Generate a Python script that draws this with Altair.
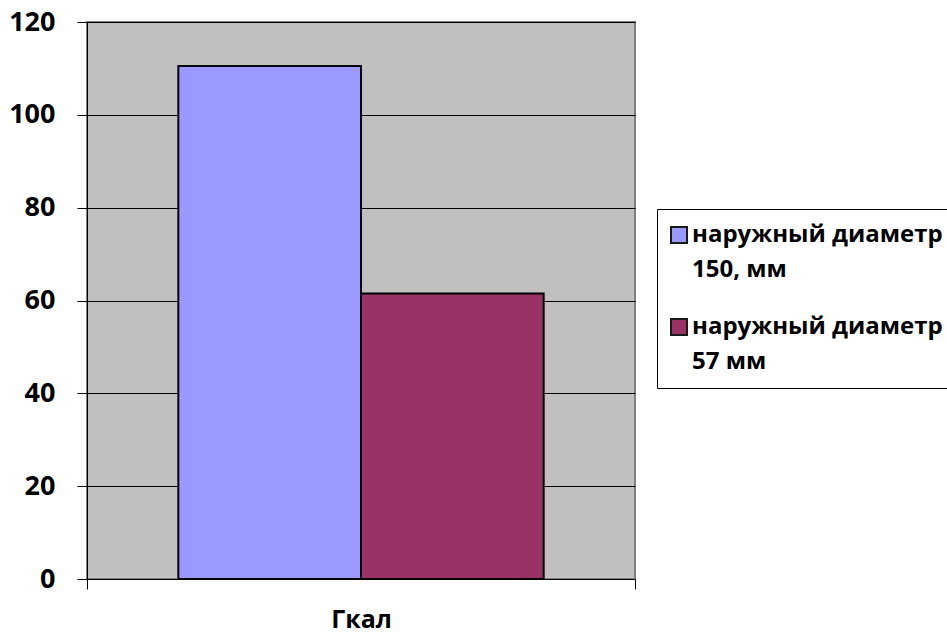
import altair as alt
import pandas as pd

# Heat output by pipe outer diameter
category = ["Гкал"]
series = ["наружный диаметр\n150, мм", "наружный диаметр\n57 мм"]
values = [110.5, 61.5]
colors = ["#9999FF", "#993366"]
y_ticks = [0, 20, 40, 60, 80, 100, 120]

df = pd.DataFrame({
    "cat": category * len(series),
    "series": series,
    "value": values,
})

FONT = "Open Sans"

chart = alt.Chart(df).mark_bar(stroke="black", strokeWidth=2).encode(
    x=alt.X(
        "cat:N",
        scale=alt.Scale(paddingInner=0, paddingOuter=0),
        axis=alt.Axis(
            title=None,
            labelAngle=0,
            tickBand="extent",
            tickSize=10,
            tickColor="black",
            domainColor="black",
            labelFont=FONT,
            labelFontSize=25,
            labelFontWeight="bold",
            labelColor="black",
            labelPadding=18,
        ),
    ),
    xOffset=alt.XOffset(
        "series:N",
        sort=series,
        scale=alt.Scale(paddingInner=0, paddingOuter=0.5),
    ),
    y=alt.Y(
        "value:Q",
        scale=alt.Scale(domain=[0, 120], nice=False),
        axis=alt.Axis(
            title=None,
            values=y_ticks,
            tickSize=10,
            tickColor="black",
            domainColor="black",
            gridColor="black",
            gridWidth=1,
            labelFont=FONT,
            labelFontSize=27,
            labelFontWeight="bold",
            labelColor="black",
            labelPadding=22,
        ),
    ),
    color=alt.Color(
        "series:N",
        sort=series,
        scale=alt.Scale(domain=series, range=colors),
        legend=alt.Legend(
            title=None,
            orient="none",
            legendX=570,
            legendY=187,
            strokeColor="black",
            fillColor="white",
            padding=14,
            symbolType="square",
            symbolSize=256,
            symbolStrokeColor="#1a1a1a",
            symbolStrokeWidth=2,
            symbolOffset=-4,
            labelFont=FONT,
            labelFontSize=24,
            labelFontWeight="bold",
            labelColor="black",
            labelLimit=600,
            labelExpr="split(datum.label, '\\n')",
            rowPadding=33,
            labelOffset=1,
        ),
    ),
).properties(
    width=548,
    height=557,
    padding={"left": 87, "top": 22, "right": 312, "bottom": 53},
    autosize="none",
    background="white",
).configure(
    style={"guide-label": {"lineHeight": 35}},
).configure_view(
    fill="#C0C0C0",
    stroke="#808080",
    strokeWidth=2,
)

chart.save("out.html", embed_options={"renderer": "svg", "actions": False})
